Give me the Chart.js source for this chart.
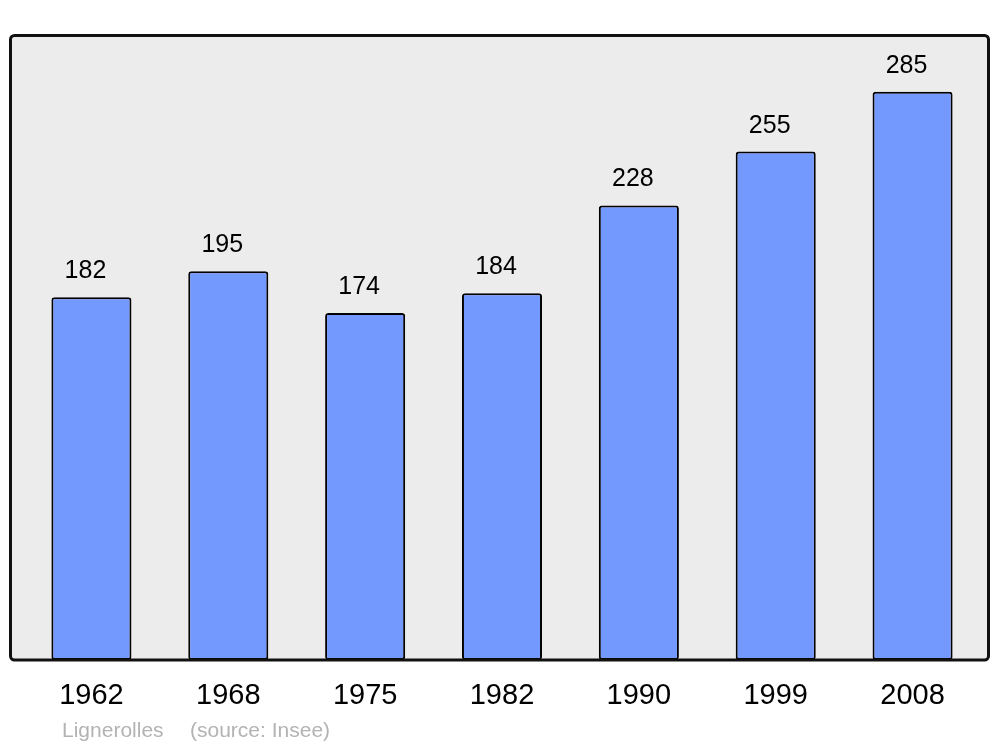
<!DOCTYPE html>
<html>
<head>
<meta charset="utf-8">
<script src="https://cdn.jsdelivr.net/npm/chart.js@4"></script>
<style>
  body { margin: 0; background: #fff; }
  #box { width: 1000px; height: 747px; }
</style>
</head>
<body>
<div id="box"><canvas id="grafico"></canvas></div>
<script>
// dados
const anos = ['1962', '1968', '1975', '1982', '1990', '1999', '2008'];
const populacao = [182, 195, 174, 184, 228, 255, 285];
const fonte = ['Lignerolles', '(source: Insee)'];

// fundo cinza e moldura
const moldura = {
    id: 'moldura',
    beforeDatasetsDraw(chart) {
        const a = chart.chartArea;
        const ctx = chart.ctx;
        ctx.save();
        ctx.fillStyle = '#ececec';
        ctx.beginPath();
        ctx.roundRect(a.left - 12.5, a.top + 1.5, a.right - a.left + 20, a.bottom - a.top - 1.5, 4);
        ctx.fill();
        ctx.restore();
    },
    afterDatasetsDraw(chart) {
        const a = chart.chartArea;
        const ctx = chart.ctx;
        ctx.save();
        ctx.strokeStyle = '#111';
        ctx.lineWidth = 3;
        ctx.beginPath();
        ctx.roundRect(a.left - 12.5, a.top + 1.5, a.right - a.left + 20, a.bottom - a.top - 1.5, 4);
        ctx.stroke();

        // valores acima das barras
        ctx.fillStyle = '#000';
        ctx.font = '25px "Liberation Sans", Arial, sans-serif';
        ctx.textAlign = 'center';
        ctx.textBaseline = 'alphabetic';
        chart.getDatasetMeta(0).data.forEach((barra, i) => {
            ctx.fillText(populacao[i], barra.x - 6, barra.y - 19);
        });

        // fonte
        ctx.fillStyle = '#b3b3b3';
        ctx.font = '21px "Liberation Sans", Arial, sans-serif';
        ctx.textAlign = 'left';
        ctx.fillText(fonte[0], 62, 737);
        ctx.fillText(fonte[1], 190, 737);
        ctx.restore();
    }
};

const grafico = new Chart(document.querySelector('#grafico'), {
    type: 'bar',
    data: {
        labels: anos,
        datasets: [{
            data: populacao,
            backgroundColor: '#7399ff',
            borderColor: '#000',
            borderWidth: 2,
            borderRadius: 3,
            borderSkipped: false,
            categoryPercentage: 1,
            barPercentage: 0.585
        }]
    },
    options: {
        responsive: true,
        maintainAspectRatio: false,
        animation: false,
        layout: { padding: { left: 23, right: 19, top: 34, bottom: 0 } },
        plugins: {
            legend: { display: false },
            tooltip: { enabled: false }
        },
        scales: {
            x: {
                grid: { display: false, drawTicks: false },
                border: { display: false },
                ticks: {
                    color: '#000',
                    padding: 19,
                    font: { size: 29, family: '"Liberation Sans", Arial, sans-serif' }
                },
                afterFit(scale) { scale.height = 87; }
            },
            y: {
                display: false,
                min: 0,
                max: 314
            }
        }
    },
    plugins: [moldura]
});
</script>
</body>
</html>
